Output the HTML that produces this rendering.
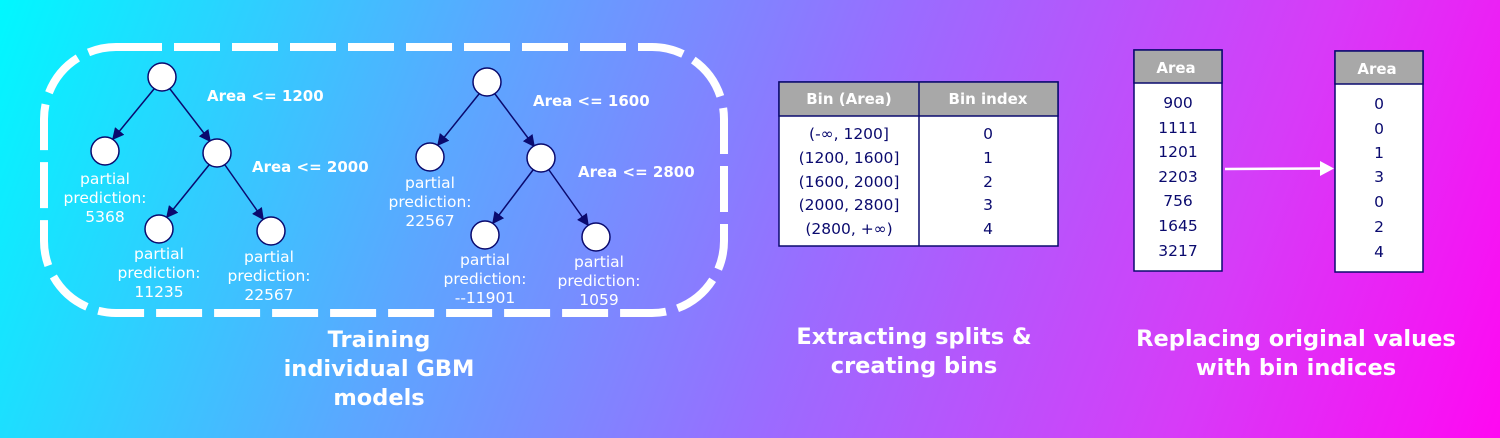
<!DOCTYPE html>
<html><head><meta charset="utf-8"><style>
html,body{margin:0;padding:0}
body{width:1500px;height:438px;overflow:hidden;background:linear-gradient(110deg,#00f8ff 0%,#5aa8ff 30%,#9a6cff 55%,#d63cf8 80%,#ff08f2 100%);font-family:"DejaVu Sans","Liberation Sans",sans-serif}
svg{position:absolute;left:0;top:0}
.w{fill:#fff;font-size:15.5px;text-anchor:middle}
.b{fill:#fff;font-size:15px;font-weight:bold}
.t{fill:#fff;font-size:22.5px;font-weight:bold;text-anchor:middle}
.n{fill:#0a0a6e;font-size:15.5px;text-anchor:middle}
.h{fill:#fff;font-size:15px;font-weight:bold;text-anchor:middle}
</style></head><body>
<svg width="1500" height="438">
<defs><marker id="ah" markerWidth="8" markerHeight="8" refX="7" refY="4" orient="auto"><path d="M0,0 L8,4 L0,8 z" fill="#0a0a6e"/></marker></defs>
<rect x="44" y="47" width="680" height="266" rx="72" fill="none" stroke="#fff" stroke-width="8" stroke-dasharray="46 12"/>
<g stroke="#0a0a6e" stroke-width="1.5">
<line x1="154" y1="89" x2="113" y2="139" marker-end="url(#ah)"/>
<line x1="170" y1="89" x2="210" y2="141" marker-end="url(#ah)"/>
<line x1="209" y1="165" x2="167" y2="217" marker-end="url(#ah)"/>
<line x1="225" y1="165" x2="263" y2="219" marker-end="url(#ah)"/>
<circle cx="162" cy="77" r="14" fill="#fff"/><circle cx="105" cy="151" r="14" fill="#fff"/><circle cx="217" cy="153" r="14" fill="#fff"/><circle cx="159" cy="229" r="14" fill="#fff"/><circle cx="271" cy="231" r="14" fill="#fff"/>
</g>
<text class="b" x="207" y="101">Area &lt;= 1200</text>
<text class="b" x="252" y="172">Area &lt;= 2000</text>
<text class="w"><tspan x="105" y="184">partial</tspan><tspan x="105" y="203">prediction:</tspan><tspan x="105" y="222">5368</tspan></text>
<text class="w"><tspan x="159" y="259">partial</tspan><tspan x="159" y="278">prediction:</tspan><tspan x="159" y="297">11235</tspan></text>
<text class="w"><tspan x="269" y="262">partial</tspan><tspan x="269" y="281">prediction:</tspan><tspan x="269" y="300">22567</tspan></text>
<g stroke="#0a0a6e" stroke-width="1.5">
<line x1="479" y1="94" x2="438" y2="145" marker-end="url(#ah)"/>
<line x1="495" y1="94" x2="534" y2="146" marker-end="url(#ah)"/>
<line x1="533" y1="170" x2="493" y2="223" marker-end="url(#ah)"/>
<line x1="549" y1="170" x2="588" y2="225" marker-end="url(#ah)"/>
<circle cx="487" cy="82" r="14" fill="#fff"/><circle cx="430" cy="157" r="14" fill="#fff"/><circle cx="541" cy="158" r="14" fill="#fff"/><circle cx="485" cy="235" r="14" fill="#fff"/><circle cx="596" cy="237" r="14" fill="#fff"/>
</g>
<text class="b" x="533" y="106">Area &lt;= 1600</text>
<text class="b" x="578" y="177">Area &lt;= 2800</text>
<text class="w"><tspan x="430" y="188">partial</tspan><tspan x="430" y="207">prediction:</tspan><tspan x="430" y="226">22567</tspan></text>
<text class="w"><tspan x="485" y="265">partial</tspan><tspan x="485" y="284">prediction:</tspan><tspan x="485" y="303">--11901</tspan></text>
<text class="w"><tspan x="599" y="267">partial</tspan><tspan x="599" y="286">prediction:</tspan><tspan x="599" y="305">1059</tspan></text>
<text class="t"><tspan x="379" y="347">Training</tspan><tspan x="379" y="376">individual GBM</tspan><tspan x="379" y="405">models</tspan></text>
<text class="t"><tspan x="914" y="344">Extracting splits &amp;</tspan><tspan x="914" y="373">creating bins</tspan></text>
<text class="t"><tspan x="1296" y="346">Replacing original values</tspan><tspan x="1296" y="375">with bin indices</tspan></text>
<g>
<rect x="779" y="82" width="279" height="164" fill="#fff" stroke="#0a0a6e" stroke-width="1.5"/>
<rect x="779" y="82" width="279" height="34" fill="#a8a8a8" stroke="#0a0a6e" stroke-width="1.5"/>
<line x1="919" y1="82" x2="919" y2="246" stroke="#0a0a6e" stroke-width="1.5"/>
<text class="h" x="849" y="104">Bin (Area)</text><text class="h" x="988" y="104">Bin index</text>
<text class="n"><tspan x="849" y="139">(-∞, 1200]</tspan><tspan x="849" y="163">(1200,  1600]</tspan><tspan x="849" y="187">(1600, 2000]</tspan><tspan x="849" y="210">(2000, 2800]</tspan><tspan x="849" y="234">(2800, +∞)</tspan></text>
<text class="n"><tspan x="988" y="139">0</tspan><tspan x="988" y="163">1</tspan><tspan x="988" y="187">2</tspan><tspan x="988" y="210">3</tspan><tspan x="988" y="234">4</tspan></text>
</g>
<g>
<rect x="1134" y="50" width="88" height="221" fill="#fff" stroke="#0a0a6e" stroke-width="1.5"/>
<rect x="1134" y="50" width="88" height="33" fill="#a8a8a8" stroke="#0a0a6e" stroke-width="1.5"/>
<text class="h" x="1176" y="73">Area</text>
<text class="n"><tspan x="1178" y="108">900</tspan><tspan x="1178" y="133">1111</tspan><tspan x="1178" y="157">1201</tspan><tspan x="1178" y="182">2203</tspan><tspan x="1178" y="206">756</tspan><tspan x="1178" y="231">1645</tspan><tspan x="1178" y="256">3217</tspan></text>
</g>
<g>
<line x1="1225" y1="169" x2="1322" y2="168.5" stroke="#fff" stroke-width="2.5"/>
<path d="M1320,161 L1334,168.5 L1320,176 z" fill="#fff"/>
</g>
<g>
<rect x="1335" y="51" width="88" height="221" fill="#fff" stroke="#0a0a6e" stroke-width="1.5"/>
<rect x="1335" y="51" width="88" height="33" fill="#a8a8a8" stroke="#0a0a6e" stroke-width="1.5"/>
<text class="h" x="1377" y="74">Area</text>
<text class="n"><tspan x="1379" y="109">0</tspan><tspan x="1379" y="134">0</tspan><tspan x="1379" y="158">1</tspan><tspan x="1379" y="182">3</tspan><tspan x="1379" y="207">0</tspan><tspan x="1379" y="232">2</tspan><tspan x="1379" y="257">4</tspan></text>
</g>
</svg>
</body></html>
